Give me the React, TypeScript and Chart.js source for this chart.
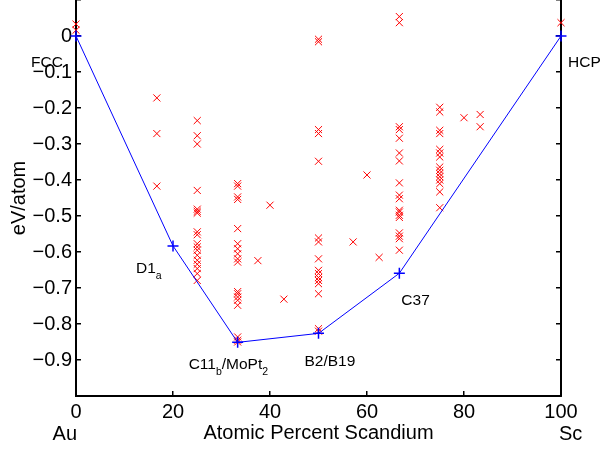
import React, { useEffect, useRef } from 'react';
import { Chart, registerables } from 'chart.js';

Chart.register(...registerables);

// ---- Data ----
const xTickValues = [0, 20, 40, 60, 80, 100];
const yTickValues = [0.1, 0, -0.1, -0.2, -0.3, -0.4, -0.5, -0.6, -0.7, -0.8, -0.9, -1];
const yLabelledTicks = [0, -0.1, -0.2, -0.3, -0.4, -0.5, -0.6, -0.7, -0.8, -0.9];

const xAxisTitle = 'Atomic Percent Scandium';
const yAxisTitle = 'eV/atom';
const elementLeft = 'Au';
const elementRight = 'Sc';

// Convex hull (ground states)
const hullComposition = [0, 20, 33.33, 50, 66.67, 100];
const hullEnergy = [0, -0.583, -0.851, -0.826, -0.659, 0];
// Label segments: [text, isSubscript]
const hullLabels: [string, boolean][][] = [
  [['FCC', false]],
  [['D1', false], ['a', true]],
  [['C11', false], ['b', true], ['/MoPt', false], ['2', true]],
  [['B2/B19', false]],
  [['C37', false]],
  [['HCP', false]],
];

// Calculated structures, per composition (at.% Sc)
const compositions = [0, 16.67, 25, 33.33, 37.5, 40, 42.86, 50, 57.14, 60, 62.5, 66.67, 75, 80, 83.33, 100];
const energiesAt0 = [0.033, 0.016];
const energiesAt16 = [-0.172, -0.271, -0.417];
const energiesAt25 = [-0.235, -0.277, -0.3, -0.429, -0.481, -0.487, -0.492, -0.544, -0.552, -0.577, -0.586, -0.595, -0.609, -0.623, -0.634, -0.646, -0.66, -0.679];
const energiesAt33 = [-0.41, -0.417, -0.447, -0.454, -0.535, -0.577, -0.591, -0.605, -0.619, -0.628, -0.71, -0.716, -0.725, -0.734, -0.748, -0.836, -0.845, -0.85];
const energiesAt37 = [-0.624];
const energiesAt40 = [-0.47];
const energiesAt43 = [-0.731];
const energiesAt50 = [-0.009, -0.016, -0.26, -0.271, -0.348, -0.561, -0.572, -0.619, -0.651, -0.66, -0.671, -0.679, -0.688, -0.716, -0.813, -0.82];
const energiesAt57 = [-0.572];
const energiesAt60 = [-0.386];
const energiesAt62 = [-0.615];
const energiesAt67 = [0.054, 0.037, -0.252, -0.26, -0.284, -0.325, -0.347, -0.408, -0.442, -0.452, -0.484, -0.489, -0.498, -0.504, -0.547, -0.556, -0.563, -0.595];
const energiesAt75 = [-0.198, -0.211, -0.262, -0.271, -0.315, -0.325, -0.336, -0.364, -0.373, -0.382, -0.391, -0.4, -0.41, -0.433, -0.477];
const energiesAt80 = [-0.227];
const energiesAt83 = [-0.218, -0.252];
const energiesAt100 = [0.037];

const energiesByComposition = [
  energiesAt0, energiesAt16, energiesAt25, energiesAt33, energiesAt37, energiesAt40, energiesAt43,
  energiesAt50, energiesAt57, energiesAt60, energiesAt62, energiesAt67, energiesAt75, energiesAt80,
  energiesAt83, energiesAt100,
];

// ---- Styles ----
const FONT = 'Liberation Sans, Arial, Helvetica, sans-serif';
const labelOffsets: [number, number][] = [
  [-45, 31],
  [-37, 27],
  [-49, 27],
  [-14, 33],
  [2, 32],
  [7, 31],
];

const fmtY = (v: number) => {
  if (!yLabelledTicks.includes(v)) return '';
  if (v === 0) return '0';
  return (v < 0 ? '\u2212' : '') + Math.abs(v).toString();
};

const annotationPlugin = {
  id: 'hullAnnotations',
  afterDraw(chart: any) {
    const ctx: CanvasRenderingContext2D = chart.ctx;
    const xs = chart.scales.x;
    const ys = chart.scales.y;
    ctx.save();
    ctx.fillStyle = '#000';
    ctx.textBaseline = 'alphabetic';
    ctx.textAlign = 'left';
    hullLabels.forEach((segs, i) => {
      let x = xs.getPixelForValue(hullComposition[i]) + labelOffsets[i][0];
      const y = ys.getPixelForValue(hullEnergy[i]) + labelOffsets[i][1];
      segs.forEach(([t, sub]) => {
        ctx.font = (sub ? '10.5px ' : '15.5px ') + FONT;
        ctx.fillText(t, x, sub ? y + 6 : y);
        x += ctx.measureText(t).width;
      });
    });
    ctx.font = '20px ' + FONT;
    const base = chart.height - 11;
    ctx.textAlign = 'right';
    ctx.fillText(elementLeft, xs.getPixelForValue(0) + 1, base);
    ctx.textAlign = 'left';
    ctx.fillText(elementRight, xs.getPixelForValue(100) - 2, base);
    ctx.restore();
  },
};

export default function App() {
  const ref = useRef<HTMLCanvasElement>(null);

  useEffect(() => {
    if (!ref.current) return;
    const redPoints = compositions.flatMap((c, i) => energiesByComposition[i].map((e) => ({ x: c, y: e })));
    const hullPoints = hullComposition.map((c, i) => ({ x: c, y: hullEnergy[i] }));

    const axisCommon = {
      type: 'linear' as const,
      border: { display: true, color: '#000', width: 2 },
      grid: { display: true, drawOnChartArea: false, drawTicks: true, tickLength: -5, color: '#000', lineWidth: 1.5 },
    };

    const chart = new Chart(ref.current, {
      type: 'scatter',
      data: {
        datasets: [
          {
            data: hullPoints,
            showLine: true,
            borderColor: 'rgb(0,0,255)',
            backgroundColor: 'rgb(0,0,255)',
            borderWidth: 1,
            pointStyle: 'cross',
            pointRadius: 5.5,
            pointBorderWidth: 1.5,
            pointBorderColor: 'rgb(0,0,255)',
            clip: false as any,
            order: 0,
          },
          {
            data: redPoints,
            showLine: false,
            borderColor: 'rgb(255,0,0)',
            backgroundColor: 'rgb(255,0,0)',
            pointStyle: 'crossRot',
            pointRadius: 5,
            pointBorderWidth: 1,
            clip: false as any,
            order: 1,
          },
        ],
      },
      options: {
        animation: false,
        responsive: false,
        layout: { padding: 0, autoPadding: false },
        plugins: { legend: { display: false }, tooltip: { enabled: false } },
        scales: {
          x: {
            ...axisCommon,
            position: 'bottom',
            min: 0,
            max: 100,
            afterBuildTicks: (axis: any) => {
              axis.ticks = xTickValues.map((v) => ({ value: v }));
            },
            afterFit: (axis: any) => {
              axis.height = 55;
              axis.paddingLeft = 0;
              axis.paddingRight = 0;
            },
            ticks: {
              padding: 9,
              color: '#000',
              font: { family: FONT, size: 20 },
              maxRotation: 0,
              autoSkip: false,
              callback: (v: any) => String(v),
            },
            title: {
              display: true,
              text: xAxisTitle,
              color: '#000',
              font: { family: FONT, size: 20 },
              padding: { top: 6, bottom: 6 },
            },
          },
          y: {
            ...axisCommon,
            position: 'left',
            min: -1,
            max: 0.1,
            afterBuildTicks: (axis: any) => {
              axis.ticks = yTickValues.map((v) => ({ value: v }));
            },
            afterFit: (axis: any) => {
              axis.width = 76;
              axis.paddingTop = 0;
              axis.paddingBottom = 0;
            },
            ticks: {
              padding: 9,
              color: '#000',
              font: { family: FONT, size: 20 },
              autoSkip: false,
              callback: (v: any) => fmtY(Number(v)),
            },
            title: {
              display: true,
              text: yAxisTitle,
              color: '#000',
              font: { family: FONT, size: 20 },
              padding: { top: 7, bottom: 7 },
            },
          },
          y2: {
            ...axisCommon,
            position: 'right',
            min: -1,
            max: 0.1,
            afterBuildTicks: (axis: any) => {
              axis.ticks = yTickValues.map((v) => ({ value: v }));
            },
            afterFit: (axis: any) => {
              axis.width = 39;
              axis.paddingTop = 0;
              axis.paddingBottom = 0;
            },
            ticks: { display: true, callback: () => '' },
          },
        },
      },
      plugins: [annotationPlugin],
    });
    return () => chart.destroy();
  }, []);

  return (
    <div style={{ position: 'fixed', left: 0, top: 0, width: 600, height: 451, background: '#fff' }}>
      <canvas ref={ref} width={600} height={451} style={{ display: 'block', width: 600, height: 451 }} />
    </div>
  );
}
